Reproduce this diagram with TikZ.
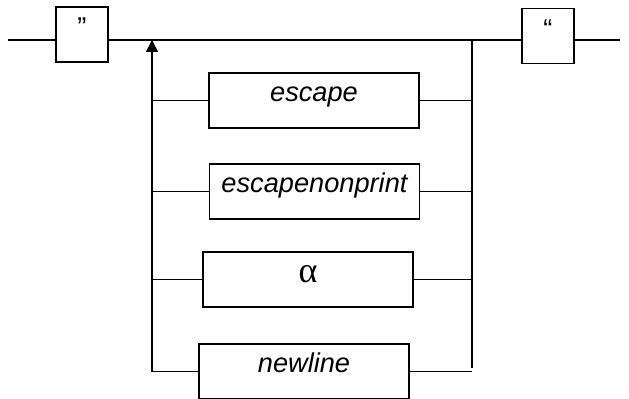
\documentclass[tikz,border=0pt]{standalone}
\usepackage{fontspec}
\setmainfont{Liberation Sans}
\newfontfamily\greekfont{Liberation Serif}
\usetikzlibrary{arrows.meta, positioning}

\begin{document}
\begin{tikzpicture}[
    x=0.5pt, y=-0.5pt,
    line width=0.7pt,
    term/.style={
        rectangle, draw=black,
        inner sep=0pt,
        text height=14.5pt, text depth=13pt,
        minimum width=105pt,
        font=\fontsize{13.6}{16}\selectfont\itshape
    },
    quotebox/.style={
        term, minimum width=26pt,
        text height=15pt, text depth=12.5pt,
        font=\fontsize{13.6}{16}\selectfont
    },
    arrow/.style={-{Triangle[length=6pt, width=6pt]}}
]
\useasboundingbox (0,0) rectangle (629,399);

% entry and exit of the rule
\coordinate (in) at (8,40);
\coordinate (out) at (620,40);
\coordinate (ltop) at (152,40);
\coordinate (lbot) at (152,372);
\coordinate (rtop) at (472,40);
\coordinate (rbot) at (472,368);

\node[quotebox] (qopen) at (82,34.5) {”};
\node[quotebox] (qclose) at (548,36) {“};

% alternatives
\node[term] (esc) at (314,100.5) {escape};
\node[term] (enp) at (314.5,191.5) {escapenonprint};
\node[term, text height=15.5pt, text depth=12pt, font=\fontsize{18}{20}\selectfont\greekfont] (alpha) at (308,279.5) {α};
\node[term] (nl) at (304,371.5) {newline};

\draw (in) -- (in -| qopen.west);
\draw (qopen.east |- in) -- (qclose.west |- in);
\draw (qclose.east |- out) -- (out);

\draw[arrow] (lbot) -- (ltop);
\draw (rtop) -- (rbot);

\foreach \t in {esc, enp, alpha, nl} {
    \draw (\t.west -| lbot) -- (\t.west);
    \draw (\t.east) -- (\t.east -| rtop);
}

\end{tikzpicture}
\end{document}
